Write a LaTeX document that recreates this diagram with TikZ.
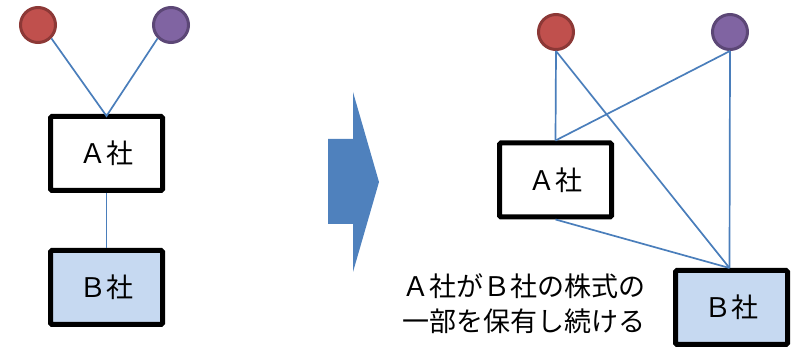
\documentclass[tikz,border=0pt]{standalone}
\usepackage{fontspec}
\setmainfont{Noto Sans CJK JP}
\definecolor{redfill}{HTML}{C0504D}
\definecolor{redline}{HTML}{8C3836}
\definecolor{purpfill}{HTML}{8064A2}
\definecolor{purpline}{HTML}{5C4776}
\definecolor{linkblue}{HTML}{4A7EBB}
\definecolor{arrowblue}{HTML}{4F81BD}
\definecolor{bfill}{HTML}{C6D9F1}
\tikzset{
  person/.style={circle, line width=3pt, minimum size=35pt, inner sep=0pt},
  redp/.style={person, draw=redline, fill=redfill},
  purp/.style={person, draw=purpline, fill=purpfill},
  company/.style={draw=black, line width=5pt, rounded corners=1.5pt, minimum width=112pt, minimum height=74pt, inner sep=0pt, font=\fontsize{27pt}{30pt}\selectfont},
  compa/.style={company, fill=white},
  compb/.style={company, fill=bfill},
  link/.style={draw=linkblue, line width=1.7pt}
}
\begin{document}
\begin{tikzpicture}[x=1pt,y=-1pt]
\useasboundingbox (0,0) rectangle (796,347);
% left
\node[redp] (r1) at (38,25) {};
\node[purp] (p1) at (171,25) {};
\node[compa] (a1) at (106.5,153.5) {Ａ社};
\node[compb] (b1) at (106.5,287.5) {Ｂ社};
\coordinate (j1) at (106.5,116);
\draw[link] (r1.south east) -- (j1) -- (p1.south west);
\draw[link] (a1.south) -- (b1.north);
% arrow
\fill[arrowblue] (328,139) -- (353,139) -- (353,92) -- (379,182) -- (353,272) -- (353,224) -- (328,224) -- cycle;
% right
\node[redp] (r2) at (556,32) {};
\node[purp] (p2) at (730,32) {};
\node[compa] (a2) at (555.5,180) {Ａ社};
\node[compb] (b2) at (731.5,307.5) {Ｂ社};
\coordinate (bt) at (729.5,268);
\draw[link] (r2.south) -- (a2.north);
\draw[link] (p2.south) -- (a2.north);
\draw[link] (r2.south) -- (bt);
\draw[link] (a2.south) -- (bt);
\draw[link] (p2.south) -- (bt);
% caption
\node[anchor=west, align=left, inner sep=0pt, font=\fontsize{27pt}{35pt}\selectfont] (cap) at (402,304) {Ａ社がＢ社の株式の\\一部を保有し続ける};
\end{tikzpicture}
\end{document}
